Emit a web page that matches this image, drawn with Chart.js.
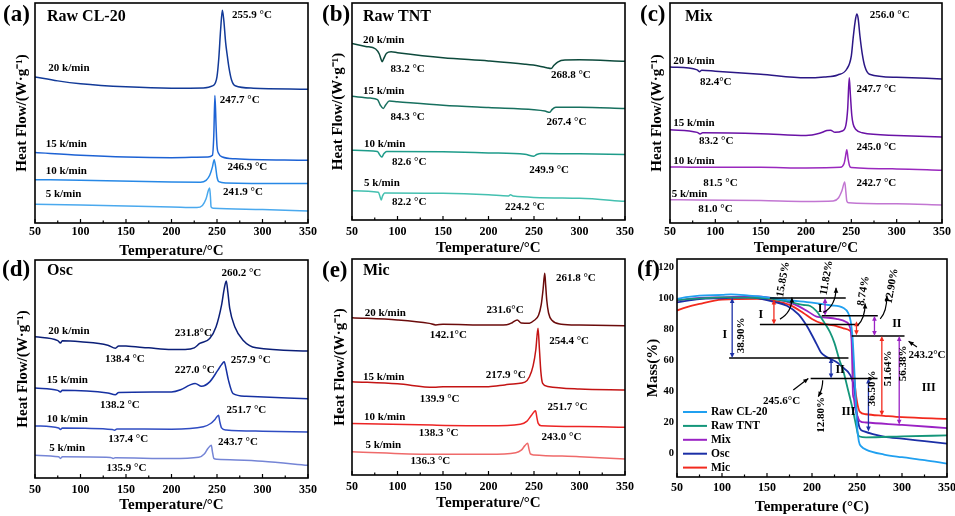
<!DOCTYPE html>
<html lang="en">
<head>
    <meta charset="UTF-8">
    <title>DSC and TG curves</title>
    <script src="https://cdn.jsdelivr.net/npm/chart.js"></script>
    <style>
        body { margin: 0; background: #fff; }
        #fig { position: relative; width: 955px; height: 516px; }
        #fig canvas { position: absolute; }
    </style>
</head>
<body>
    <div id="fig">
        <canvas id="pa" width="320" height="260" style="left:0;top:0"></canvas>
        <canvas id="pb" width="315" height="260" style="left:320px;top:0"></canvas>
        <canvas id="pc" width="320" height="260" style="left:635px;top:0"></canvas>
        <canvas id="pd" width="320" height="261" style="left:0;top:255px"></canvas>
        <canvas id="pe" width="315" height="261" style="left:320px;top:255px"></canvas>
        <canvas id="pf" width="320" height="261" style="left:635px;top:255px"></canvas>
    </div>

    <script>
        const tempTicks = [50, 100, 150, 200, 250, 300, 350];
        const massTicks = [0, 20, 40, 60, 80, 100, 120];
        const rates = ['20 k/min', '15 k/min', '10 k/min', '5 k/min'];

        // (a) Raw CL-20, heat flow in arbitrary units (0-100 of the panel height)
        const cl20_20 = [[50,66.4],[75,64.6],[100,63.3],[150,61.9],[200,61.3],[235,61.4],[245,62.3],[248,63.5],[250,66.5],[252,75],[254,88],[255.9,96.7],[257.5,92],[259.5,82],[261,77],[263,71],[266,65],[270,62.4],[290,61.3],[350,60.8]];
        const cl20_15 = [[50,32],[100,30.8],[150,30],[200,29.7],[240,30],[245,30.8],[246.5,40],[247.7,58],[249,44],[250,35],[252,31.5],[256,30],[270,29.2],[350,28.5]];
        const cl20_10 = [[50,19.7],[100,19.4],[200,18.6],[232,18.5],[238,19.4],[242,21.7],[245,25.5],[246.9,28.8],[248.5,25.5],[250,20.9],[252,18.8],[260,18.2],[350,17.9]];
        const cl20_5 = [[50,8.5],[100,8.2],[200,7.3],[228,7],[234,8],[238,11],[240.5,14.8],[241.9,15.9],[242.8,11.8],[243.5,7.3],[246,6.7],[300,6.1],[350,5.5]];

        // (b) Raw TNT
        const tnt_20 = [[50,81.3],[65,80],[76,78.8],[80,76.5],[82,74],[83.2,72.9],[85,74.5],[88,76.8],[93,77.5],[100,77.1],[150,74.8],[200,73.3],[240,71.8],[255,71],[264,70.2],[268.8,69.8],[272,71.3],[276,72.8],[284,73.7],[300,73.8],[350,73.2]];
        const tnt_15 = [[50,57],[70,56.2],[78,55.5],[81,53],[84.3,51.4],[87,53],[91,54.8],[100,54.5],[150,52.9],[200,51.8],[250,50.8],[262,50.2],[267.4,49.6],[270,51],[274,52],[300,52],[350,51.4]];
        const tnt_10 = [[50,32.2],[78,31.6],[80.5,30],[82.6,29],[85,30.5],[88,31.6],[150,31.4],[200,30.9],[240,30.3],[249.9,29.4],[253,30.2],[258,30.7],[300,30.5],[350,30.2]];
        const tnt_5 = [[50,13.5],[79,12.8],[81,10.5],[82.2,9.2],[83.5,11],[86,12.5],[150,12.3],[200,11.6],[222,11.1],[224.2,11.6],[227,11.1],[300,10],[350,8.6]];

        // (c) Mix
        const mix_20 = [[50,70.9],[80,69.6],[82.4,68.8],[85,69.4],[100,69],[150,67.6],[200,66],[220,66.4],[235,67.3],[245,70],[250,76],[252,84],[254,91],[256,95],[257.5,93],[259.5,85],[262,77],[265,71],[270,67.6],[300,66.2],[350,65.5]];
        const mix_15 = [[50,42.4],[80,41.2],[83.2,40.5],[86,41],[150,40.6],[200,39.8],[215,40.8],[223,42],[227,42.2],[232,41.2],[240,41.8],[244,44.5],[246,52],[247.7,66],[249,58],[250.5,49],[252,45],[255,42.5],[262,41],[300,39.8],[350,39.1]];
        const mix_10 = [[50,25.5],[81.5,25.3],[150,25.3],[200,25],[238,25.3],[242,27],[243.5,30],[245,33.3],[246.5,29],[248,26],[250,25.2],[300,24.6],[350,24]];
        const mix_5 = [[50,10.6],[81,10.4],[150,10.2],[200,9.8],[230,10],[236,11.5],[239.5,14.5],[242.7,18.6],[244,14],[245,10],[247,9.2],[300,8.7],[350,8.2]];

        // (d) Osc
        const osc_20 = [[50,64.8],[75,63],[78,61.9],[80,63],[100,62.5],[130,60.9],[138.4,59.5],[142,60.6],[150,60.5],[175,59.7],[200,59],[215,59],[225,59.7],[231,61.7],[242,64],[249,69.4],[255,79.3],[258,87],[260.2,90.4],[262,85],[264,77.8],[269.5,69.4],[278.6,63.2],[293,59.7],[350,58.3]];
        const osc_15 = [[50,41.3],[75,40.2],[78,39.5],[80,40.3],[130,39],[138.2,38.2],[142,39.2],[200,39.5],[210,40.5],[220,42.6],[226,43.4],[233,42.1],[242,44.1],[251,49.5],[255,52],[257.9,53.3],[260,50],[262.5,45],[267.7,38.7],[282,37.5],[350,36.4]];
        const osc_10 = [[50,23.9],[76,22.9],[78,22.2],[80,22.9],[135,22.2],[137.4,21.9],[140,22.5],[200,22.4],[235,23.5],[243,25],[248,27],[251.7,28.8],[253,26],[255,23],[260,22],[300,21.5],[350,21.1]];
        const osc_5 = [[50,10.4],[76,9.7],[78,9],[80,9.7],[133,9.4],[135.9,9],[138,9.3],[200,8.9],[230,9.5],[236,11],[240,13.5],[243.7,15],[245,12],[246.5,9],[250,8.6],[300,7.7],[350,5.8]];

        // (e) Mic
        const mic_20 = [[50,72.8],[100,71.8],[135,70.2],[142.1,69.5],[150,69.8],[200,69.4],[220,69.6],[226,70.5],[231.6,71.8],[236,70.4],[245,70.3],[250,71.5],[255,74],[258,79],[260,86],[261.8,93.4],[262.8,88],[264,81],[266,75],[270,71.5],[280,69.8],[300,69.4],[350,69.1]];
        const mic_15 = [[50,43.2],[100,42.2],[139.9,40.6],[150,40.8],[200,40.9],[217.9,41.7],[230,42.3],[240,43],[245,45.5],[249,50.5],[252,58],[254.4,67.9],[256,58],[257.5,48],[259.5,42.4],[265,41],[300,39.8],[350,39.4]];
        const mic_10 = [[50,23.9],[138.3,23.1],[200,22.8],[235,23.5],[242,24.8],[247,27.5],[251.7,29.8],[253,27],[254.5,24],[258,22.8],[300,22.4],[350,22.1]];
        const mic_5 = [[50,10.8],[136.3,9.6],[200,9.6],[230,10.3],[236,11.5],[240,13.6],[243,14.7],[244.5,12],[246,9.8],[250,9.3],[300,8.5],[350,7.4]];

        // (f) TG mass (%)
        const tgLabels = ['Raw CL-20', 'Raw TNT', 'Mix', 'Osc', 'Mic'];
        const tgCL20 = [[50,99.4],[60,100.5],[75,101.5],[100,102],[110,102.3],[130,101.5],[150,100.4],[175,98.5],[200,97],[220,95.3],[235,93.5],[240,90.5],[243,85],[245,75],[246.5,60],[248,42],[250,18],[252,8],[255,4.5],[260,2.6],[280,-0.6],[300,-2.3],[325,-4.2],[350,-6.4]];
        const tgTNT = [[50,98.7],[100,100.4],[150,99.8],[175,97.5],[190,95.5],[198,94.8],[205,91.5],[210,87.5],[215,83],[220,78],[225,71],[230,61],[235,52.6],[240,41],[245,29],[249,18],[251,12.5],[253,11],[260,10.5],[300,11.1],[350,11.7]];
        const tgMix = [[50,98.3],[75,100],[100,100.4],[140,101],[160,99.4],[180,96],[195,91.5],[205,88],[215,87.4],[227,86.6],[238,84.5],[242,81.5],[244,72],[245,50],[245.5,38],[246.5,35.5],[248,29],[250,24.9],[253,21],[260,20],[300,18.5],[350,16.4]];
        const tgOsc = [[50,97.2],[75,99.3],[100,99.8],[130,100.4],[160,97.2],[172,95],[185,89.5],[194,82.3],[200,76],[205,70.5],[210,65],[215,62.5],[220,61],[228,58.5],[235,55],[240,52.5],[244,48.5],[247,42],[250,25],[253,16.4],[258,14.3],[280,11],[300,9.6],[325,8],[350,6.4]];
        const tgMic = [[50,91.9],[60,94],[75,96.2],[100,98.9],[140,99.4],[160,98],[175,95.5],[190,90.5],[200,86.5],[210,83.8],[224,82.3],[235,80.5],[242,79],[244,76],[246,57],[248,42],[250,33.4],[253,27],[260,25.3],[280,24.3],[300,23.4],[350,22.3]];

        // peak / rate labels: [temperature, height, text]
        const notesA = [[266.6,94.4,'255.9 °C'],[64.6,70.2,'20 k/min'],[253,56,'247.7 °C'],[61.7,35.8,'15 k/min'],[261.5,25.5,'246.9 °C'],[61.7,23.5,'10 k/min'],[256.7,13.8,'241.9 °C'],[61.7,12.9,'5 k/min']];
        const notesB = [[62.1,83.1,'20 k/min'],[92.2,69.5,'83.2 °C'],[268.6,66.7,'268.8 °C'],[62.1,59.5,'15 k/min'],[92.2,47.5,'84.3 °C'],[263.8,45.2,'267.4 °C'],[63.2,35,'10 k/min'],[94,26.5,'82.6 °C'],[244.7,23,'249.9 °C'],[63.2,16.9,'5 k/min'],[94,8.3,'82.2 °C'],[218,6.1,'224.2 °C']];
        const notesC = [[270.3,94.4,'256.0 °C'],[53.7,73.6,'20 k/min'],[83,64.1,'82.4°C'],[255.6,61,'247.7 °C'],[53.7,45.6,'15 k/min'],[82,37.3,'83.2 °C'],[255.6,34.5,'245.0 °C'],[53.7,28.2,'10 k/min'],[86.7,18.2,'81.5 °C'],[255.6,18.2,'242.7 °C'],[51.8,13.3,'5 k/min'],[81.2,6.2,'81.0 °C']];
        const notesD = [[254.9,93.9,'260.2 °C'],[64.6,67.4,'20 k/min'],[203.7,66.3,'231.8°C'],[126.8,54.4,'138.4 °C'],[203.7,49.5,'227.0 °C'],[265.1,54.1,'257.9 °C'],[62.8,44.9,'15 k/min'],[121.3,33.4,'138.2 °C'],[62.8,27,'10 k/min'],[260.4,31.1,'251.7 °C'],[130.5,17.8,'137.4 °C'],[251.2,16.5,'243.7 °C'],[65.7,13.8,'5 k/min'],[128.7,4.7,'135.9 °C']];
        const notesE = [[274.1,91,'261.8 °C'],[63.9,74.8,'20 k/min'],[197.8,76.4,'231.6°C'],[135.5,64.8,'142.1°C'],[266.7,62,'254.4 °C'],[62.1,45.5,'15 k/min'],[197,46.3,'217.9 °C'],[124.4,35.2,'139.9 °C'],[63.2,26.7,'10 k/min'],[264.9,31.2,'251.7 °C'],[123.3,19.3,'138.3 °C'],[258.3,17.3,'243.0 °C'],[64.7,13.9,'5 k/min'],[114.2,6.6,'136.3 °C']];

        // (f) stage markers
        const stepLevels = [[100,153.2,237.5],[88.5,210.8,273.1],[83,142.1,252.3],[75.5,244.2,302.8],[61.5,107.9,240.5],[48.3,198.5,272.8]];
        const lossArrows = [[111.3,100,61.5,'Osc'],[157.7,99,83,'Mic'],[214.5,100,88.5,'Mix'],[249.4,85,76,'Mic'],[269.4,88.5,75.5,'Mix'],[221.2,61.5,48.3,'Osc'],[262.7,48.3,14.3,'Osc'],[277.6,75.5,24.3,'Mic'],[296.9,75.5,18.5,'Mix']];
        const lossTexts = [[120.9,76,'38.90%',-90],[168,111.9,'15.85%',-80],[216.3,113,'11.82%',-80],[257.2,104.5,'8.74%',-80],[288.7,107.7,'12.90%',-80],[209.7,24.9,'12.80%',-90],[267.2,41.9,'36.50%',-90],[285,54.7,'51.64%',-90],[301.7,57.9,'56.38%',-90],[327.7,63.2,'243.2°C',0],[166.2,33.4,'245.6°C',0]];
        const stageTexts = [[103.1,76,'I'],[143.2,89.1,'I'],[208.9,92.8,'I'],[294.3,83.4,'II'],[231.2,53.6,'II'],[240.5,27,'III'],[329.6,41.9,'III']];
        const curvedPointers = [[164.4,86.4,177.7,90.6,177.7,100.2],[212.6,90.6,226.7,95.1,226.7,106.6],[250.5,82.1,259,86.8,259,96.4],[275.8,86.5,283.2,91,283.2,101.5],[211.9,47.2,212,42,207,36.6]];
        const straightPointers = [[316.6,68.5,307.3,72.1],[179.2,40.9,195.9,48.3]];

        const serif = "'Liberation Serif', 'Times New Roman', serif";

        function figurePlugin(f) {
            return {
                id: 'figure',
                afterDraw(chart) {
                    const { ctx, chartArea: a, scales } = chart;
                    const X = v => scales.x.getPixelForValue(v);
                    const Y = v => scales.y.getPixelForValue(v);
                    const colorOf = name => chart.data.datasets.find(d => d.label === name).borderColor;
                    ctx.save();
                    ctx.strokeStyle = '#000';
                    ctx.fillStyle = '#000';

                    function text(str, x, y, size, align, angle) {
                        ctx.save();
                        ctx.translate(x, y);
                        if (angle) ctx.rotate(angle * Math.PI / 180);
                        ctx.font = 'bold ' + size + 'px ' + serif;
                        ctx.textAlign = align;
                        ctx.textBaseline = 'middle';
                        ctx.fillText(str, 0, 0);
                        ctx.restore();
                    }
                    function head(x, y, ang) {
                        ctx.beginPath();
                        ctx.moveTo(x, y);
                        ctx.lineTo(x - 5 * Math.cos(ang) + 2.3 * Math.sin(ang), y - 5 * Math.sin(ang) - 2.3 * Math.cos(ang));
                        ctx.lineTo(x - 5 * Math.cos(ang) - 2.3 * Math.sin(ang), y - 5 * Math.sin(ang) + 2.3 * Math.cos(ang));
                        ctx.closePath();
                        ctx.fill();
                    }
                    function marks(scale) {
                        const t = scale.ticks.map(k => k.value);
                        const one = (v, len) => {
                            const p = X(v);
                            ctx.beginPath(); ctx.moveTo(p, a.bottom); ctx.lineTo(p, a.bottom - len); ctx.stroke();
                        };
                        t.forEach((v, i) => {
                            one(v, 4);
                            if (i < t.length - 1) one((v + t[i + 1]) / 2, 2.5);
                        });
                    }

                    // frame and inward ticks
                    ctx.lineWidth = 1.6;
                    ctx.strokeRect(a.left, a.top, a.right - a.left, a.bottom - a.top);
                    ctx.lineWidth = 1.2;
                    marks(scales.x);

                    text(f.letter, f.letterAt[0], f.letterAt[1], 23, 'left');
                    if (f.title) text(f.title, f.titleAt[0], f.titleAt[1], 16, 'left');
                    (f.notes || []).forEach(([x, y, s]) => text(s, X(x), Y(y), 11, 'left'));

                    if (f.tg) {
                        ctx.lineWidth = 1.5;
                        stepLevels.forEach(([y, x1, x2]) => {
                            ctx.beginPath(); ctx.moveTo(X(x1), Y(y)); ctx.lineTo(X(x2), Y(y)); ctx.stroke();
                        });
                        ctx.lineWidth = 1.3;
                        lossArrows.forEach(([x, y1, y2, who]) => {
                            const c = colorOf(who);
                            ctx.strokeStyle = c; ctx.fillStyle = c;
                            ctx.beginPath(); ctx.moveTo(X(x), Y(y1) + 3); ctx.lineTo(X(x), Y(y2) - 3); ctx.stroke();
                            head(X(x), Y(y1), -Math.PI / 2);
                            head(X(x), Y(y2), Math.PI / 2);
                        });
                        ctx.strokeStyle = '#000'; ctx.fillStyle = '#000';
                        ctx.lineWidth = 1.2;
                        curvedPointers.forEach(([x0, y0, cx, cy, x1, y1]) => {
                            ctx.beginPath();
                            ctx.moveTo(X(x0), Y(y0));
                            ctx.quadraticCurveTo(X(cx), Y(cy), X(x1), Y(y1));
                            ctx.stroke();
                            head(X(x1), Y(y1), Math.atan2(Y(y1) - Y(cy), X(x1) - X(cx)));
                        });
                        straightPointers.forEach(([x0, y0, x1, y1]) => {
                            ctx.beginPath(); ctx.moveTo(X(x0), Y(y0)); ctx.lineTo(X(x1), Y(y1)); ctx.stroke();
                            head(X(x1), Y(y1), Math.atan2(Y(y1) - Y(y0), X(x1) - X(x0)));
                        });
                        lossTexts.forEach(([x, y, s, ang]) => text(s, X(x), Y(y), 11, 'center', ang));
                        stageTexts.forEach(([x, y, s]) => text(s, X(x), Y(y), 12, 'center'));

                        // legend
                        chart.data.datasets.forEach((d, i) => {
                            const ly = a.top + 153 + i * 13.9;
                            ctx.strokeStyle = d.borderColor;
                            ctx.lineWidth = 2;
                            ctx.beginPath(); ctx.moveTo(a.left + 6, ly); ctx.lineTo(a.left + 30, ly); ctx.stroke();
                            ctx.fillStyle = '#000';
                            text(d.label, a.left + 34, ly, 11.5, 'left');
                        });
                    }
                    ctx.restore();
                }
            };
        }

        function panel(id, o) {
            const noPad = s => { s.paddingLeft = 0; s.paddingRight = 0; s.paddingTop = 0; s.paddingBottom = 0; };
            return new Chart(document.getElementById(id), {
                type: 'line',
                data: {
                    datasets: o.series.map(([label, data, color]) => ({
                        label, data, borderColor: color, borderWidth: o.lw || 1.5,
                        pointRadius: 0, fill: false, cubicInterpolationMode: 'monotone'
                    }))
                },
                options: {
                    responsive: false,
                    animation: false,
                    events: [],
                    layout: { padding: { top: o.pad[0], right: o.pad[1], left: 0, bottom: 0 } },
                    plugins: { legend: { display: false }, tooltip: { enabled: false } },
                    scales: {
                        x: {
                            type: 'linear', min: 50, max: 350,
                            afterBuildTicks: s => { s.ticks = tempTicks.map(v => ({ value: v })); },
                            afterFit: s => { s.height = o.xh; noPad(s); },
                            grid: { display: false, drawTicks: false }, border: { display: false },
                            ticks: { color: '#000', padding: o.tp, maxRotation: 0, font: { family: serif, size: 12, weight: 'bold' } },
                            title: { display: true, text: o.xTitle, color: '#000', padding: { top: 0, bottom: o.xtb },
                                     font: { family: serif, size: 15, weight: 'bold' } }
                        },
                        y: {
                            type: 'linear', min: o.yRange[0], max: o.yRange[1],
                            afterBuildTicks: o.yTicks ? (s => { s.ticks = o.yTicks.map(v => ({ value: v })); }) : undefined,
                            afterFit: s => { s.width = o.yw; noPad(s); },
                            grid: { display: false, drawTicks: false }, border: { display: false },
                            ticks: { display: !!o.yTicks, color: '#000', padding: 3, font: { family: serif, size: 10.5, weight: 'bold' } },
                            title: { display: true, text: o.yTitle, color: '#000', padding: { top: o.ytp, bottom: 0 },
                                     font: { family: serif, size: 15, weight: 'bold' } }
                        }
                    }
                },
                plugins: [figurePlugin(o.fig)]
            });
        }

        const dscY = 'Heat Flow/(W·g⁻¹)';
        const dscT = 'Temperature/°C';
        const series = (arrs, colors) => arrs.map((d, i) => [rates[i], d, colors[i]]);

        panel('pa', {
            series: series([cl20_20, cl20_15, cl20_10, cl20_5], ['#123a98', '#1d62d4', '#2788e6', '#4aa9ee']),
            pad: [3, 12], yw: 35, xh: 37, tp: 2, xtb: 0, ytp: 13, yRange: [0, 100],
            xTitle: dscT, yTitle: dscY,
            fig: { letter: '(a)', letterAt: [3, 15], title: 'Raw CL-20', titleAt: [47, 17], notes: notesA }
        });
        panel('pb', {
            series: series([tnt_20, tnt_15, tnt_10, tnt_5], ['#0d4a3c', '#17705f', '#1e9c8a', '#44c0b0']),
            pad: [3, 10], yw: 32, xh: 40, tp: 5, xtb: 3, ytp: 9, yRange: [0, 100],
            xTitle: dscT, yTitle: dscY,
            fig: { letter: '(b)', letterAt: [2, 15], title: 'Raw TNT', titleAt: [43, 17], notes: notesB }
        });
        panel('pc', {
            series: series([mix_20, mix_15, mix_10, mix_5], ['#2b1785', '#6a12a6', '#9a28be', '#c276d2']),
            pad: [3, 13], yw: 35, xh: 37, tp: 2, xtb: 3, ytp: 13, yRange: [0, 100],
            xTitle: dscT, yTitle: dscY,
            fig: { letter: '(c)', letterAt: [5, 15], title: 'Mix', titleAt: [50, 17], notes: notesC }
        });
        panel('pd', {
            series: series([osc_20, osc_15, osc_10, osc_5], ['#0b1f78', '#1631a2', '#2f4cc2', '#7585d6']),
            pad: [5, 12], yw: 35, xh: 38, tp: 5, xtb: 2, ytp: 14, yRange: [0, 100],
            xTitle: dscT, yTitle: dscY,
            fig: { letter: '(d)', letterAt: [2, 15], title: 'Osc', titleAt: [47, 16], notes: notesD }
        });
        panel('pe', {
            series: series([mic_20, mic_15, mic_10, mic_5], ['#6b0b0b', '#c41414', '#ec2424', '#ef6a6a']),
            pad: [4, 10], yw: 32, xh: 41, tp: 5, xtb: 4, ytp: 11, yRange: [0, 100],
            xTitle: dscT, yTitle: dscY,
            fig: { letter: '(e)', letterAt: [2, 16], title: 'Mic', titleAt: [43, 16], notes: notesE }
        });
        panel('pf', {
            series: [
                [tgLabels[0], tgCL20, '#20a0f0'],
                [tgLabels[1], tgTNT, '#14967a'],
                [tgLabels[2], tgMix, '#9a22c4'],
                [tgLabels[3], tgOsc, '#1b2fa6'],
                [tgLabels[4], tgMic, '#f22a1e']
            ],
            lw: 1.8, pad: [4, 8], yw: 42, xh: 39, tp: 4, xtb: 0, ytp: 9, yRange: [-15, 125], yTicks: massTicks,
            xTitle: 'Temperature (°C)', yTitle: 'Mass(%)',
            fig: { letter: '(f)', letterAt: [2, 15], tg: true }
        });
    </script>
</body>
</html>
